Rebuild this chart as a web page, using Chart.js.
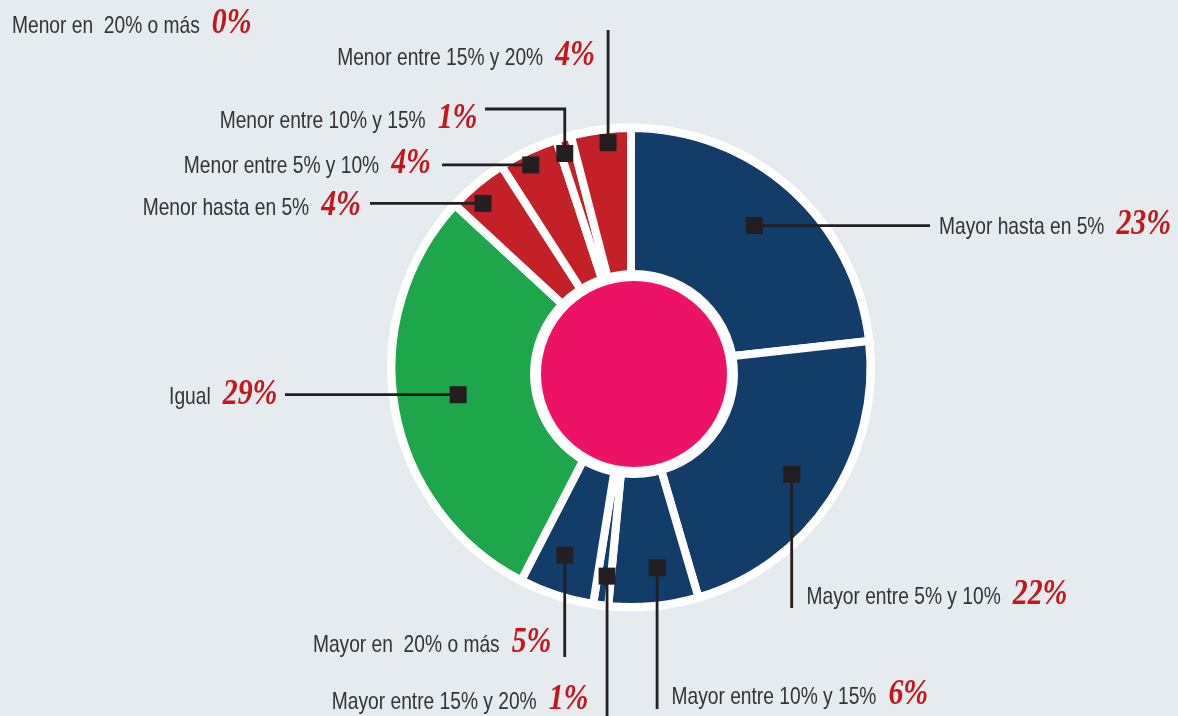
<!DOCTYPE html>
<html><head><meta charset="utf-8">
<script src="https://cdn.jsdelivr.net/npm/chart.js@4/dist/chart.umd.min.js"></script>
<style>html,body{margin:0;padding:0;background:#E5EBEE;overflow:hidden}canvas{display:block}</style>
</head><body>
<canvas id="c" width="1178" height="716"></canvas>
<script>
// ---- data ----
const categories = ["Mayor hasta en 5%", "Mayor entre 5% y 10%", "Mayor entre 10% y 15%", "Mayor entre 15% y 20%", "Mayor en  20% o más", "Igual", "Menor hasta en 5%", "Menor entre 5% y 10%", "Menor entre 10% y 15%", "Menor entre 15% y 20%", "Menor en  20% o más"];
const values = [23, 22, 6, 1, 5, 29, 4, 4, 1, 4, 0];
const valueLabels = values.map(v => v + '%');

// ---- styles / layout ----
const BLUE = '#123D68', GREEN = '#1DA64A', RED = '#C32127';
const sliceColors = [BLUE, BLUE, BLUE, BLUE, BLUE, GREEN, RED, RED, RED, RED, RED];
const markerRadius = [188, 193, 202, 210, 199, 175, 221, 226, 224, 226, null];
const markerAngleFrac = [0.49, 0.5, 0.41, 0.3, 0.57, 0.51, 0.36, 0.44, 0.27, 0.6, 0.5];
const labelX = [939, 806.5, 671.5, 588.5, 551.5, 277.5, 361, 431, 477.5, 595, 12];
const labelBaseline = [234, 603.5, 703.5, 708.5, 651.5, 403.5, 215, 173, 128, 65, 33];
const labelAlign = ['left', 'left', 'left', 'right', 'right', 'right', 'right', 'right', 'right', 'right', 'left'];
const leaderLines = [
  {type: 'h', x: 930}, {type: 'v', y: 608}, {type: 'v', y: 709}, {type: 'v', y: 716},
  {type: 'v', y: 657}, {type: 'h', x: 285}, {type: 'h', x: 370}, {type: 'h', x: 442},
  {type: 'elbow', x: 485, y: 109}, {type: 'v', y: 30}, null
];
const TEXT_FONT = "24px 'Liberation Sans', Arial, sans-serif", TEXT_SX = 0.80, TEXT_COLOR = '#333333';
const PCT_FONT = "italic bold 36px 'Liberation Serif', 'Times New Roman', serif", PCT_SX = 0.83, PCT_COLOR = '#C4161C';
const LINE_COLOR = '#231F20';

function scaledWidth(ctx, text, font, sx) { ctx.save(); ctx.font = font; const w = ctx.measureText(text).width * sx; ctx.restore(); return w; }
function drawScaled(ctx, text, x, y, font, color, sx) {
  ctx.save(); ctx.font = font; ctx.fillStyle = color; ctx.textAlign = 'left'; ctx.textBaseline = 'alphabetic';
  ctx.translate(x, y); ctx.scale(sx, 1); ctx.fillText(text, 0, 0); ctx.restore();
}

const decor = {
  id: 'decor',
  beforeDatasetsDraw(chart) {
    const a = chart.getDatasetMeta(0).data[0], ctx = chart.ctx;
    ctx.save(); ctx.fillStyle = '#ffffff'; ctx.beginPath();
    ctx.arc(a.x, a.y, a.outerRadius + 4.5, 0, Math.PI * 2); ctx.fill(); ctx.restore();
  },
  afterDatasetsDraw(chart) {
    const a = chart.getDatasetMeta(0).data[0], ctx = chart.ctx;
    const cx = a.x + 3, cy = a.y + 6.5;
    ctx.save();
    ctx.fillStyle = '#ffffff'; ctx.beginPath(); ctx.arc(cx, cy, 104, 0, Math.PI * 2); ctx.fill();
    ctx.fillStyle = '#EE1266'; ctx.beginPath(); ctx.arc(cx, cy, 93, 0, Math.PI * 2); ctx.fill();
    ctx.restore();
  },
  afterDraw(chart) {
    const meta = chart.getDatasetMeta(0), ctx = chart.ctx;
    ctx.save();
    ctx.strokeStyle = LINE_COLOR; ctx.fillStyle = LINE_COLOR; ctx.lineWidth = 2.8; ctx.lineCap = 'butt';
    meta.data.forEach((el, i) => {
      const r = markerRadius[i];
      if (r == null) return;
      const ang = el.startAngle + (el.endAngle - el.startAngle) * markerAngleFrac[i];
      const mx = el.x + r * Math.cos(ang), my = el.y + r * Math.sin(ang);
      const L = leaderLines[i];
      if (L) {
        ctx.beginPath(); ctx.moveTo(mx, my);
        if (L.type === 'h') ctx.lineTo(L.x, my);
        else if (L.type === 'v') ctx.lineTo(mx, L.y);
        else { ctx.lineTo(mx, L.y); ctx.lineTo(L.x, L.y); }
        ctx.stroke();
      }
      ctx.fillRect(mx - 8.5, my - 8.5, 17, 17);
    });
    ctx.restore();
    categories.forEach((cat, i) => {
      const tw = scaledWidth(ctx, cat, TEXT_FONT, TEXT_SX);
      const pw = scaledWidth(ctx, valueLabels[i], PCT_FONT, PCT_SX);
      const gap = 12;
      const total = tw + gap + pw;
      const x0 = labelAlign[i] === 'left' ? labelX[i] : labelX[i] - total;
      drawScaled(ctx, cat, x0, labelBaseline[i], TEXT_FONT, TEXT_COLOR, TEXT_SX);
      drawScaled(ctx, valueLabels[i], x0 + tw + gap, labelBaseline[i], PCT_FONT, PCT_COLOR, PCT_SX);
    });
  }
};

new Chart(document.getElementById('c'), {
  type: 'doughnut',
  data: {
    labels: categories,
    datasets: [{
      data: values,
      backgroundColor: sliceColors,
      borderColor: '#ffffff',
      borderWidth: 8,
      borderAlign: 'center',
      radius: 239.5,
      cutout: 88
    }]
  },
  options: {
    responsive: false,
    animation: false,
    layout: {padding: {left: 391, right: 307, top: 128, bottom: 109}},
    plugins: {legend: {display: false}, tooltip: {enabled: false}}
  },
  plugins: [decor]
});
</script>
</body></html>
